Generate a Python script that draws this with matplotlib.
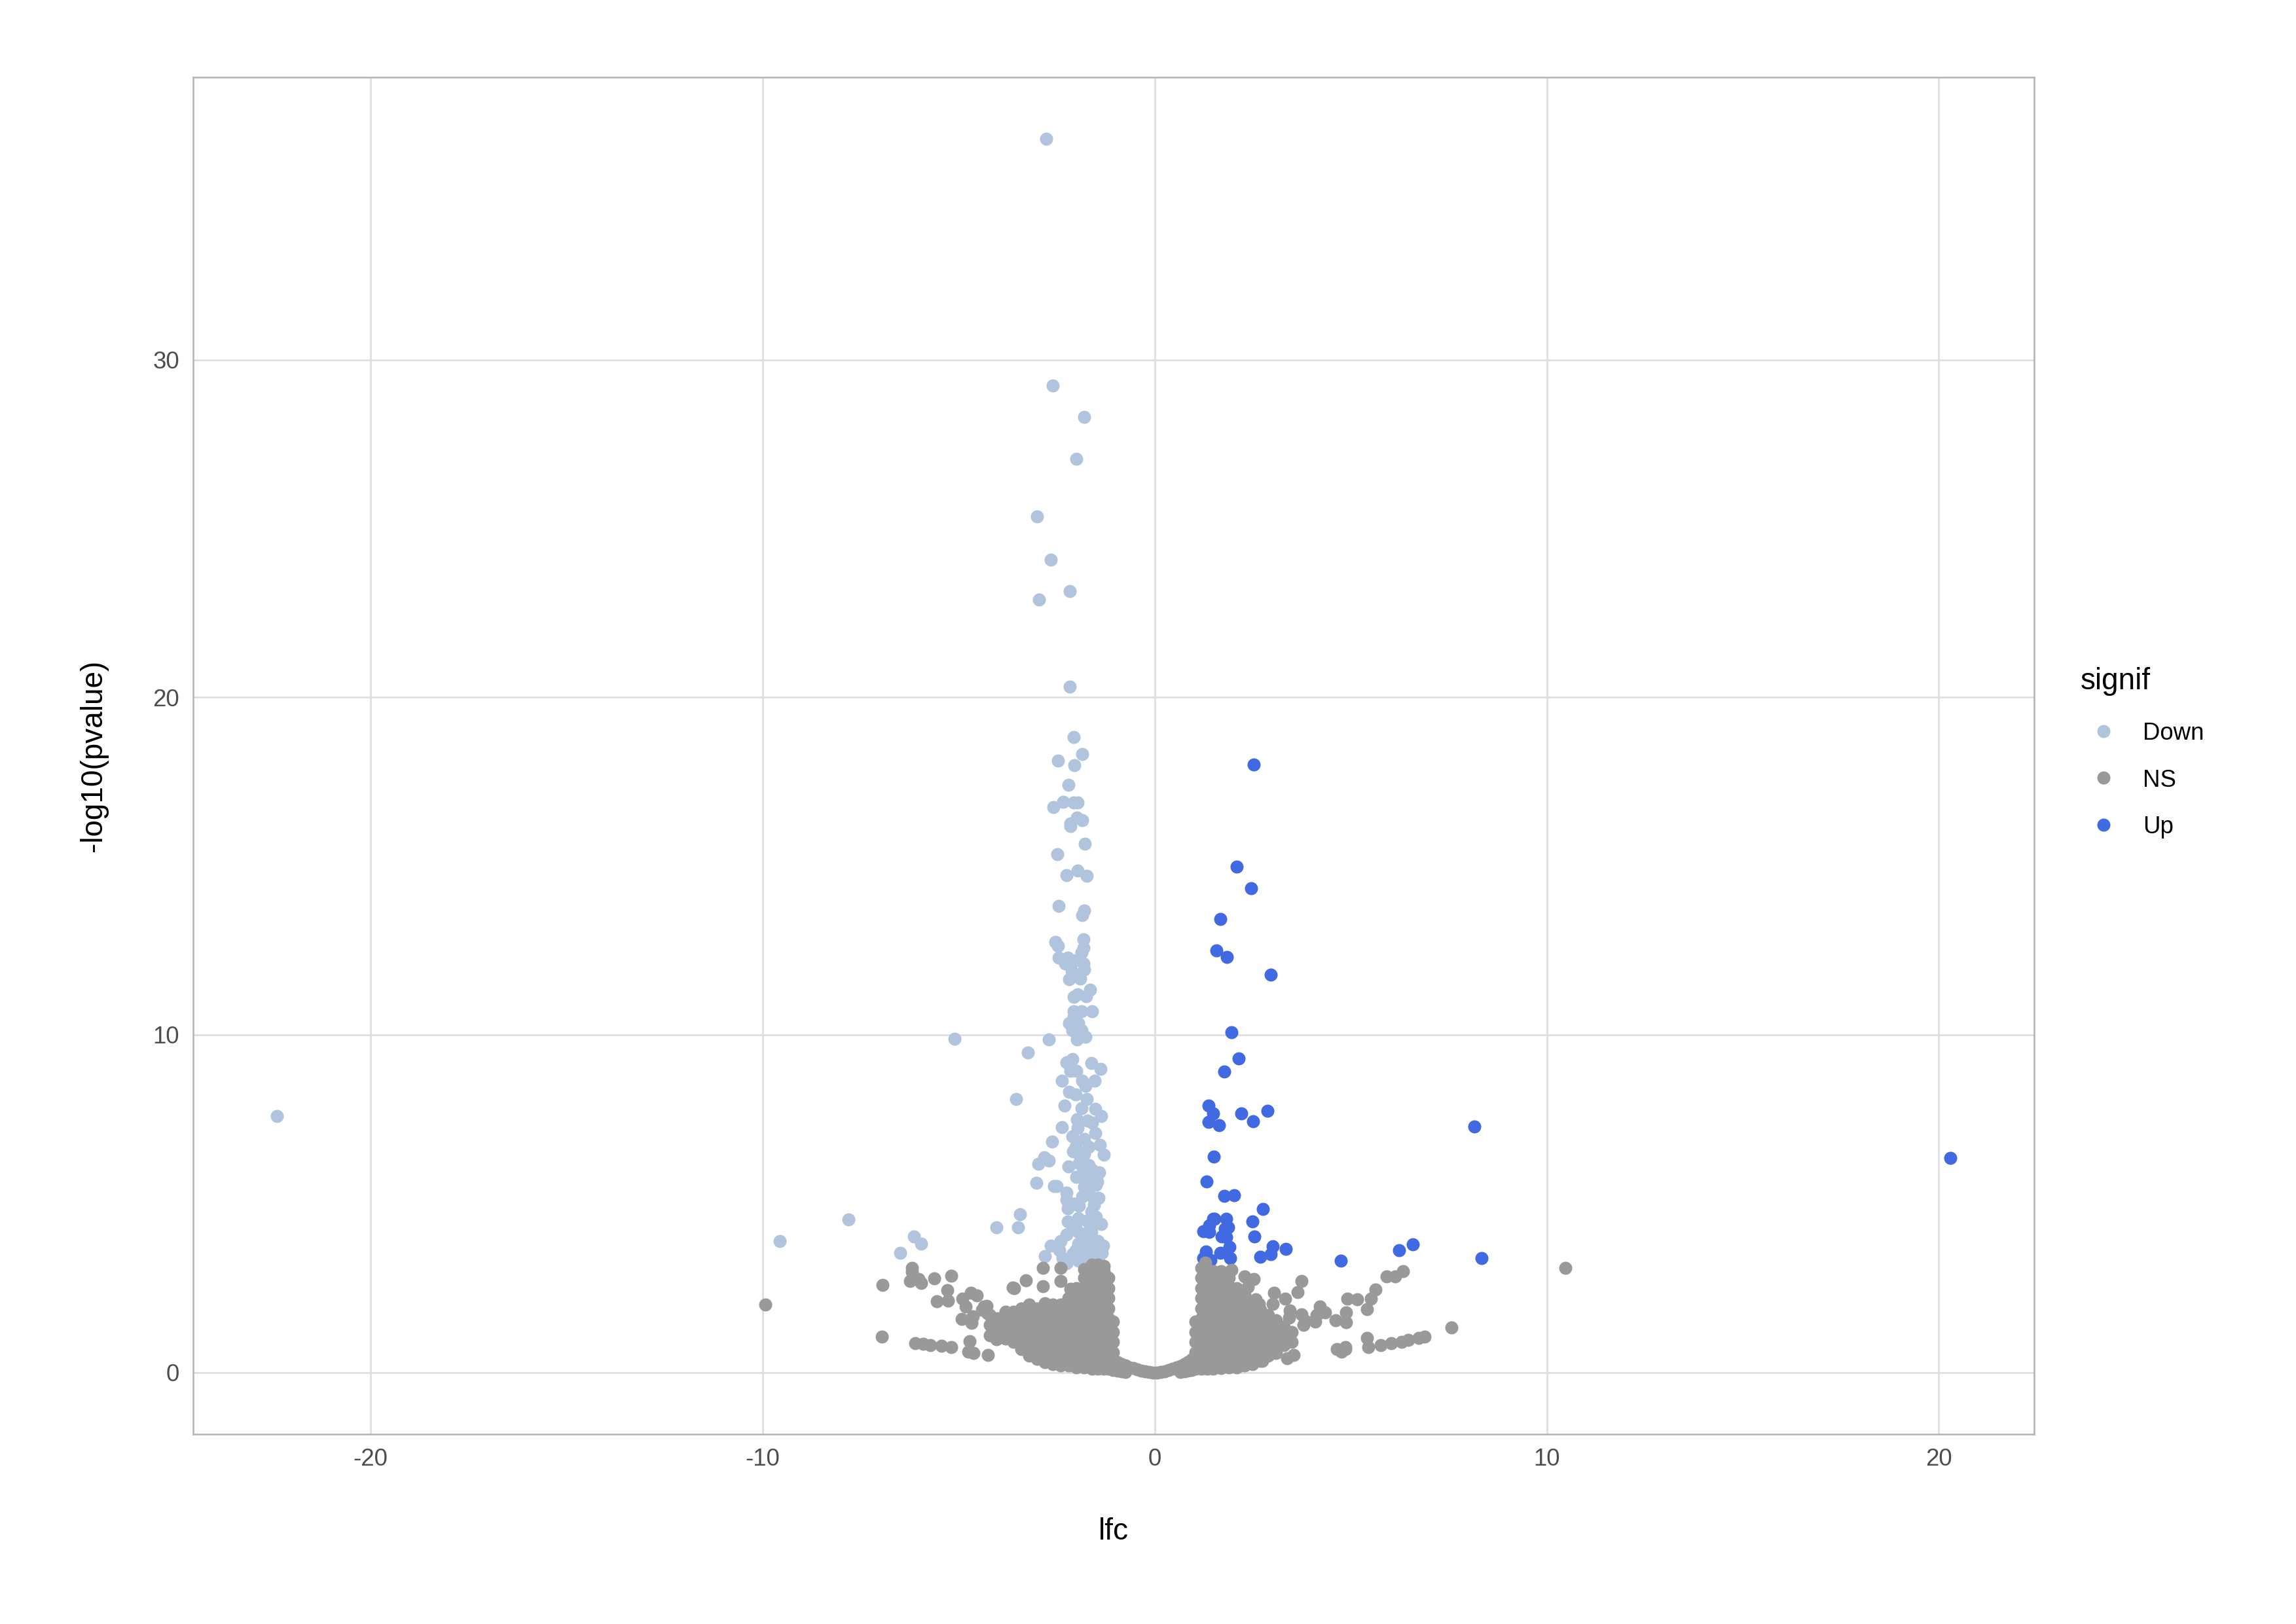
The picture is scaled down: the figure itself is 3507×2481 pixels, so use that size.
import numpy as np
import matplotlib
matplotlib.use("Agg")
import matplotlib.pyplot as plt

plt.rcParams['font.family'] = ['Liberation Sans', 'DejaVu Sans']
plt.rcParams['axes.unicode_minus'] = False

# ---------------- data (lfc, -log10(pvalue)) ----------------
down_pts = [
    (-22.39, 7.60), (-2.77, 36.54), (-2.59, 29.23), (-1.80, 28.30), (-2.00, 27.07), (-3.00, 25.36),
    (-2.64, 24.08), (-2.16, 23.15), (-2.95, 22.89), (-2.16, 20.32), (-2.06, 18.82), (-1.84, 18.32),
    (-2.47, 18.13), (-2.05, 17.99), (-2.19, 17.40), (-2.58, 16.75), (-2.33, 16.90), (-2.07, 16.88),
    (-1.97, 16.89), (-1.98, 16.43), (-1.85, 16.36), (-2.15, 16.27), (-2.14, 16.18), (-1.78, 15.66),
    (-2.48, 15.35), (-2.25, 14.74), (-1.97, 14.87), (-1.73, 14.72), (-2.44, 13.82), (-1.80, 13.69),
    (-1.84, 13.55), (-2.53, 12.75), (-2.46, 12.64), (-1.82, 12.84), (-1.82, 12.58), (-1.87, 12.45),
    (-2.45, 12.28), (-2.21, 12.28), (-2.28, 12.12), (-2.01, 12.21), (-1.82, 12.12), (-1.79, 11.94),
    (-2.12, 11.90), (-2.18, 11.64), (-1.90, 11.66), (-1.65, 11.34), (-2.07, 11.12), (-1.97, 11.21),
    (-1.75, 11.14), (-2.07, 10.69), (-1.87, 10.69), (-1.60, 10.69), (-2.07, 10.55), (-2.18, 10.35),
    (-1.95, 10.35), (-2.10, 10.14), (-1.87, 10.14), (-1.98, 9.87), (-1.76, 9.94), (-2.70, 9.87),
    (-5.10, 9.88), (-3.23, 9.47), (-2.24, 9.19), (-2.09, 9.29), (-1.61, 9.16), (-1.38, 9.00),
    (-2.15, 8.93), (-2.00, 8.93), (-2.36, 8.65), (-1.85, 8.65), (-1.53, 8.65), (-1.76, 8.48),
    (-2.18, 8.31), (-2.01, 8.24), (-1.73, 8.10), (-3.54, 8.10), (-1.86, 7.83), (-1.51, 7.80),
    (-1.37, 7.60), (-1.98, 7.49), (-1.72, 7.46), (-1.96, 7.25), (-2.36, 7.27), (-1.51, 7.10),
    (-1.79, 6.91), (-2.61, 6.83), (-2.01, 6.68), (-1.68, 6.68), (-1.40, 6.74), (-2.08, 6.54),
    (-1.79, 6.47), (-1.30, 6.46), (-2.82, 6.37), (-2.69, 6.27), (-2.97, 6.17), (-2.20, 6.10),
    (-1.93, 6.20), (-1.68, 6.14), (-1.83, 5.93), (-1.42, 5.93), (-1.73, 5.73), (-1.46, 5.66),
    (-3.01, 5.62), (-2.57, 5.51), (-2.49, 5.51), (-2.24, 5.32), (-1.69, 5.39), (-1.57, 5.18),
    (-1.43, 5.18), (-2.24, 5.11), (-2.21, 4.87), (-1.93, 4.94), (-1.62, 4.77), (-3.43, 4.69),
    (-4.03, 4.30), (-3.49, 4.30), (-2.21, 4.47), (-1.95, 4.57), (-1.73, 4.50), (-1.37, 4.40),
    (-2.24, 4.09), (-1.95, 4.16), (-1.62, 4.16), (-2.40, 3.89), (-2.65, 3.75), (-1.95, 3.82),
    (-1.32, 3.75), (-2.01, 3.62), (-1.73, 3.62), (-2.43, 3.62), (-2.79, 3.45), (-2.35, 3.38),
    (-2.24, 3.24), (-1.95, 3.31), (-1.51, 3.41), (-1.34, 3.55), (-9.56, 3.89), (-7.80, 4.53),
    (-6.13, 4.02), (-5.96, 3.81), (-6.48, 3.54), (-1.75, 3.45), (-1.60, 3.70), (-1.45, 3.90),
    (-1.85, 3.95), (-2.10, 4.30), (-1.65, 4.30), (-1.50, 4.60), (-2.05, 5.00), (-1.80, 5.50),
    (-1.60, 6.00), (-1.90, 6.40), (-2.10, 7.00), (-1.60, 7.40), (-2.30, 7.90), (-1.85, 3.35),
    (-2.10, 3.50), (-1.45, 3.35), (-1.70, 4.05), (-2.00, 4.45), (-1.55, 4.95), (-1.85, 5.20),
    (-2.00, 5.80), (-1.50, 5.55),
]

up_pts = [
    (2.53, 18.00), (2.09, 14.98), (2.46, 14.34), (1.68, 13.44), (1.58, 12.51), (1.84, 12.31),
    (2.96, 11.78), (1.96, 10.07), (2.15, 9.31), (1.78, 8.91), (1.37, 7.91), (1.50, 7.68),
    (1.37, 7.42), (1.64, 7.33), (2.21, 7.67), (2.51, 7.44), (2.88, 7.75), (1.51, 6.39),
    (1.33, 5.66), (1.78, 5.23), (2.02, 5.25), (2.76, 4.84), (2.49, 4.48), (2.54, 4.03),
    (1.52, 4.55), (1.82, 4.55), (1.40, 4.35), (1.24, 4.19), (1.80, 4.26), (1.71, 4.03),
    (1.91, 3.71), (1.31, 3.58), (1.68, 3.55), (1.93, 3.39), (1.24, 3.39), (1.43, 3.32),
    (2.69, 3.43), (2.96, 3.51), (3.02, 3.74), (3.34, 3.66), (4.75, 3.30), (6.24, 3.61),
    (6.59, 3.79), (8.33, 3.38), (8.16, 7.28), (20.30, 6.36), (1.49, 4.55), (1.88, 4.29),
    (1.39, 4.16), (1.82, 4.00),
]

ns_sparse = [
    (-9.93, 2.00), (-6.94, 2.60), (-6.95, 1.06), (-6.19, 3.09), (-6.19, 2.98), (-6.24, 2.71),
    (-6.02, 2.77), (-5.96, 2.64), (-5.62, 2.79), (-5.19, 2.87), (-5.29, 2.43), (-5.56, 2.11),
    (-5.27, 2.13), (-4.90, 2.19), (-4.69, 2.35), (-4.54, 2.29), (-4.82, 1.96), (-4.35, 1.96),
    (-4.27, 1.76), (-4.63, 1.67), (-4.92, 1.58), (-4.67, 1.46), (-4.10, 1.50), (-3.79, 1.58),
    (-4.02, 1.00), (-3.79, 1.06), (-3.62, 2.51), (-6.10, 0.87), (-5.90, 0.84), (-5.72, 0.81),
    (-5.44, 0.78), (-5.18, 0.75), (-4.72, 0.93), (-4.75, 0.62), (-4.61, 0.58), (-4.25, 0.52),
    (-2.84, 3.09), (-2.40, 3.09), (-3.28, 2.73), (-3.58, 2.49), (-2.84, 2.55), (-2.40, 2.70),
    (-2.20, 2.21), (-2.15, 2.48), (-4.29, 1.98), (-4.03, 0.98), (-3.24, 0.62), (-4.40, 1.85),
    (10.47, 3.09), (7.57, 1.33), (6.34, 3.00), (6.13, 2.84), (5.91, 2.85), (5.64, 2.45),
    (5.52, 2.19), (5.41, 1.87), (5.16, 2.16), (4.91, 2.19), (4.88, 1.77), (4.88, 1.48),
    (5.41, 1.03), (5.45, 0.74), (5.77, 0.81), (6.04, 0.87), (6.30, 0.91), (6.47, 0.96),
    (6.74, 1.03), (6.89, 1.05), (4.86, 0.70), (4.77, 0.62), (3.74, 2.71), (3.65, 2.38),
    (3.05, 2.35), (3.33, 2.19), (3.02, 2.03), (3.44, 1.84), (3.74, 1.71), (3.79, 1.41),
    (4.21, 1.96), (4.35, 1.77), (4.10, 1.51), (4.62, 1.54), (4.65, 0.70), (4.87, 0.74),
    (3.10, 0.58), (3.38, 0.41), (3.55, 0.51), (2.75, 0.35), (2.29, 2.84), (2.52, 2.77),
    (2.38, 2.54), (1.96, 3.03), (1.30, 3.26), (2.57, 2.16), (2.66, 2.03), (3.84, 1.52),
    (3.43, 1.63), (4.13, 1.69),
]

ns_dense_left = [
    (-4.2, 1.1), (-4.2, 1.4), (-4.2, 1.7),
    (-4.0, 1.05), (-4.0, 1.3), (-4.0, 1.6),
    (-3.8, 1.0), (-3.8, 1.3), (-3.8, 1.55), (-3.8, 1.8),
    (-3.6, 0.9), (-3.6, 1.2), (-3.6, 1.5), (-3.6, 1.8),
    (-3.4, 0.7), (-3.4, 1.0), (-3.4, 1.3), (-3.4, 1.6), (-3.4, 1.9),
    (-3.2, 0.5), (-3.2, 0.8), (-3.2, 1.1), (-3.2, 1.4), (-3.2, 1.7), (-3.2, 2.0),
    (-3.0, 0.4), (-3.0, 0.7), (-3.0, 1.0), (-3.0, 1.3), (-3.0, 1.6), (-3.0, 1.9),
    (-2.8, 0.3), (-2.8, 0.6), (-2.8, 0.9), (-2.8, 1.2), (-2.8, 1.5), (-2.8, 1.8), (-2.8, 2.05),
    (-2.6, 0.25), (-2.6, 0.5), (-2.6, 0.8), (-2.6, 1.1), (-2.6, 1.4), (-2.6, 1.7), (-2.6, 2.0),
    (-2.4, 0.2), (-2.4, 0.5), (-2.4, 0.8), (-2.4, 1.1), (-2.4, 1.4), (-2.4, 1.7), (-2.4, 2.0),
    (-2.2, 0.2), (-2.2, 0.45), (-2.2, 0.75), (-2.2, 1.0), (-2.2, 1.3), (-2.2, 1.6), (-2.2, 1.9), (-2.2, 2.1),
    (-2.0, 0.15), (-2.0, 0.4), (-2.0, 0.7), (-2.0, 1.0), (-2.0, 1.3), (-2.0, 1.6), (-2.0, 1.9), (-2.0, 2.2), (-2.0, 2.5),
    (-1.8, 0.15), (-1.8, 0.4), (-1.8, 0.7), (-1.8, 1.0), (-1.8, 1.3), (-1.8, 1.6), (-1.8, 1.9), (-1.8, 2.2),
    (-1.8, 2.5), (-1.8, 2.8), (-1.8, 3.05),
    (-1.6, 0.1), (-1.6, 0.35), (-1.6, 0.65), (-1.6, 0.95), (-1.6, 1.25), (-1.6, 1.55), (-1.6, 1.85),
    (-1.6, 2.15), (-1.6, 2.45), (-1.6, 2.75), (-1.6, 3.0), (-1.6, 3.2),
    (-1.45, 0.1), (-1.45, 0.35), (-1.45, 0.65), (-1.45, 0.95), (-1.45, 1.25), (-1.45, 1.55), (-1.45, 1.85),
    (-1.45, 2.15), (-1.45, 2.45), (-1.45, 2.75), (-1.45, 3.0), (-1.45, 3.2),
    (-1.3, 0.1), (-1.3, 0.35), (-1.3, 0.65), (-1.3, 0.95), (-1.3, 1.25), (-1.3, 1.55), (-1.3, 1.85),
    (-1.3, 2.15), (-1.3, 2.45), (-1.3, 2.75), (-1.3, 3.0), (-1.3, 3.15),
    (-1.18, 0.1), (-1.18, 0.4), (-1.18, 0.7), (-1.18, 1.0), (-1.18, 1.3), (-1.18, 1.6), (-1.18, 1.9),
    (-1.18, 2.2), (-1.18, 2.5), (-1.18, 2.8),
    (-1.07, 0.08), (-1.07, 0.3), (-1.07, 0.6), (-1.07, 0.9), (-1.07, 1.2), (-1.07, 1.5),
]

ns_dense_right = [
    (1.05, 0.1), (1.05, 0.35), (1.05, 0.6), (1.05, 0.9), (1.05, 1.2), (1.05, 1.5),
    (1.2, 0.1), (1.2, 0.4), (1.2, 0.7), (1.2, 1.0), (1.2, 1.3), (1.2, 1.6), (1.2, 1.9), (1.2, 2.2),
    (1.2, 2.5), (1.2, 2.8), (1.2, 3.1),
    (1.35, 0.1), (1.35, 0.4), (1.35, 0.7), (1.35, 1.0), (1.35, 1.3), (1.35, 1.6), (1.35, 1.9),
    (1.35, 2.2), (1.35, 2.5), (1.35, 2.8), (1.35, 3.05),
    (1.5, 0.1), (1.5, 0.4), (1.5, 0.7), (1.5, 1.0), (1.5, 1.3), (1.5, 1.6), (1.5, 1.9), (1.5, 2.2),
    (1.5, 2.5), (1.5, 2.8), (1.5, 3.0),
    (1.7, 0.12), (1.7, 0.4), (1.7, 0.7), (1.7, 1.0), (1.7, 1.3), (1.7, 1.6), (1.7, 1.9), (1.7, 2.2),
    (1.7, 2.5), (1.7, 2.8), (1.7, 3.0),
    (1.9, 0.15), (1.9, 0.45), (1.9, 0.75), (1.9, 1.05), (1.9, 1.35), (1.9, 1.65), (1.9, 1.95),
    (1.9, 2.25), (1.9, 2.55), (1.9, 2.8),
    (2.1, 0.15), (2.1, 0.45), (2.1, 0.75), (2.1, 1.05), (2.1, 1.35), (2.1, 1.65), (2.1, 1.95),
    (2.1, 2.25), (2.1, 2.5),
    (2.3, 0.2), (2.3, 0.5), (2.3, 0.8), (2.3, 1.1), (2.3, 1.4), (2.3, 1.7), (2.3, 2.0), (2.3, 2.3),
    (2.5, 0.25), (2.5, 0.55), (2.5, 0.85), (2.5, 1.15), (2.5, 1.45), (2.5, 1.75), (2.5, 2.05),
    (2.7, 0.35), (2.7, 0.65), (2.7, 0.95), (2.7, 1.25), (2.7, 1.55), (2.7, 1.85),
    (2.9, 0.5), (2.9, 0.8), (2.9, 1.1), (2.9, 1.4), (2.9, 1.7),
    (3.1, 0.7), (3.1, 1.0), (3.1, 1.3), (3.1, 1.55),
    (3.3, 0.8), (3.3, 1.1), (3.3, 1.35),
    (3.5, 0.9), (3.5, 1.2),
]

ns_band = [
    (-0.95, 0.30), (-0.95, 0.05), (-0.85, 0.25), (-0.85, 0.03), (-0.75, 0.20), (-0.75, 0.02),
    (-0.65, 0.15), (-0.55, 0.12), (-0.45, 0.09), (-0.35, 0.06), (-0.25, 0.04), (-0.15, 0.02),
    (-0.05, 0.00), (0.05, 0.00), (0.15, 0.02), (0.25, 0.04), (0.35, 0.07), (0.45, 0.10),
    (0.55, 0.14), (0.65, 0.18), (0.65, 0.02), (0.75, 0.24), (0.75, 0.03), (0.85, 0.30),
    (0.85, 0.05), (0.95, 0.38), (0.95, 0.08),
]

groups = ['Down', 'NS', 'Up']
group_colors = ['#B0C4DE', '#999999', '#4169E1']

x_ticks = [-20, -10, 0, 10, 20]
y_ticks = [0, 10, 20, 30]

# ---------------- figure ----------------
W, H = 3507, 2481
fig = plt.figure(figsize=(W / 300, H / 300), dpi=300)
ax = fig.add_axes([295 / W, 1 - 2191 / H, (3107 - 295) / W, (2191 - 118) / H])

down = np.array(down_pts)
up = np.array(up_pts)
ns = np.array(ns_sparse + ns_dense_left + ns_dense_right + ns_band)

msize = 23
ax.scatter(down[:, 0], down[:, 1], s=msize, c=group_colors[0], linewidths=0, zorder=3)
ax.scatter(up[:, 0], up[:, 1], s=msize, c=group_colors[2], linewidths=0, zorder=3)
ax.scatter(ns[:, 0], ns[:, 1], s=msize, c=group_colors[1], linewidths=0, zorder=4)

ax.set_xlim(-24.52, 22.43)
ax.set_ylim(-1.83, 38.37)
ax.set_xticks(x_ticks)
ax.set_yticks(y_ticks)
ax.set_xticklabels([str(t) for t in x_ticks])
ax.set_yticklabels([str(t) for t in y_ticks])
ax.grid(True, color='#DEDEDE', linewidth=0.65, zorder=0)
ax.set_axisbelow(True)
for sp in ax.spines.values():
    sp.set_color('#B3B3B3')
    sp.set_linewidth(0.6)
ax.tick_params(axis='both', length=0, pad=5, labelsize=8.8, labelcolor='#4D4D4D')
ax.set_xlabel('lfc', fontsize=11, labelpad=17)
ax.set_ylabel('-log10(pvalue)', fontsize=11, labelpad=16.5)

# ---------------- legend ----------------
lax = fig.add_axes([0, 0, 1, 1])
lax.set_xlim(0, W)
lax.set_ylim(H, 0)
lax.axis('off')
lax.text(3178, 1053, 'signif', fontsize=11, ha='left', va='baseline')
key_y = [1117, 1188, 1260]
base_y = [1130, 1202, 1273]
for g, col, ky, by in zip(groups, group_colors, key_y, base_y):
    lax.scatter([3213], [ky], s=msize, c=col, linewidths=0)
    lax.text(3273, by, g, fontsize=8.8, ha='left', va='baseline')

fig.savefig('out.png', dpi=300)
